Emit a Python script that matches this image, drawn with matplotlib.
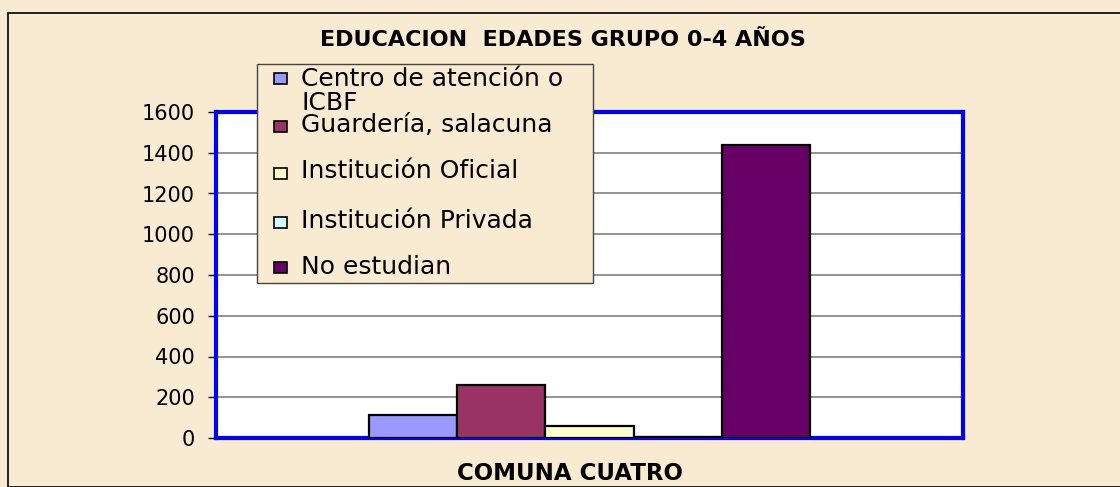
import matplotlib.pyplot as plt
from matplotlib.patches import Rectangle

plt.rcParams['font.family'] = ['DejaVu Sans']

# Data
categories = ['Centro de atención o\nICBF', 'Guardería, salacuna', 'Institución Oficial',
              'Institución Privada', 'No estudian']
values = [115, 258, 60, 5, 1438]
colors = ['#9999FF', '#993366', '#FFFFCC', '#CCFFFF', '#660066']
yticks = [0, 200, 400, 600, 800, 1000, 1200, 1400, 1600]
title = 'EDUCACION  EDADES GRUPO 0-4 AÑOS'
xlabel = 'COMUNA CUATRO'

W, H = 1120, 487
bg = '#F8EBD2'
fig = plt.figure(figsize=(W / 100, H / 100), dpi=100)
fig.patch.set_facecolor(bg)

# outer chart frame
fig.patches.append(Rectangle((8 / W, 0), 1.2, 1 - 13 / H, transform=fig.transFigure,
                             fill=False, edgecolor='black', linewidth=1.2))

ax = fig.add_axes([216 / W, (H - 438) / H, (963 - 216) / W, (438 - 112) / H])
ax.set_facecolor('white')

n = len(values)
xs = [i - (n - 1) / 2 for i in range(n)]
for x, v, c in zip(xs, values, colors):
    ax.bar(x, v, width=1.0, color=c, edgecolor='black', linewidth=1.6, zorder=3)

ax.set_xlim(-4.23, 4.23)
ax.set_ylim(0, 1600)
ax.set_yticks(yticks)
ax.set_yticklabels([str(t) for t in yticks], fontsize=15)
ax.set_xticks([])
ax.yaxis.grid(True, color='#808080', linewidth=1.2, zorder=0)
ax.tick_params(axis='y', direction='out', length=6, width=1, pad=9)
for s in ax.spines.values():
    s.set_color('#0000FF')
    s.set_linewidth(3)

fig.text(563 / W, 1 - 40 / H, title, ha='center', va='center', fontsize=16,
         fontweight='bold')
fig.text(570 / W, 1 - 474 / H, xlabel, ha='center', va='center', fontsize=16.5,
         fontweight='bold')

# legend box drawn by hand (first label wraps and overlaps as in the original)
lx0, ly0, lx1, ly1 = 257, 64, 593, 283
fig.patches.append(Rectangle((lx0 / W, 1 - ly1 / H), (lx1 - lx0) / W, (ly1 - ly0) / H,
                             transform=fig.transFigure, facecolor=bg,
                             edgecolor='#444444', linewidth=1, zorder=5))
square_y = [78, 126, 173, 222, 267]
text_y = [91, 125, 171, 221, 267]
for lab, c, sy, ty in zip(categories, colors, square_y, text_y):
    fig.patches.append(Rectangle((274 / W, 1 - (sy + 6) / H), 13 / W, 11 / H,
                                 transform=fig.transFigure, facecolor=c,
                                 edgecolor='black', linewidth=1.2, zorder=6))
    fig.text(301 / W, 1 - ty / H, lab, ha='left', va='center', fontsize=18,
             linespacing=0.98, zorder=7)

fig.savefig('out.png', dpi=100, facecolor=fig.get_facecolor())
